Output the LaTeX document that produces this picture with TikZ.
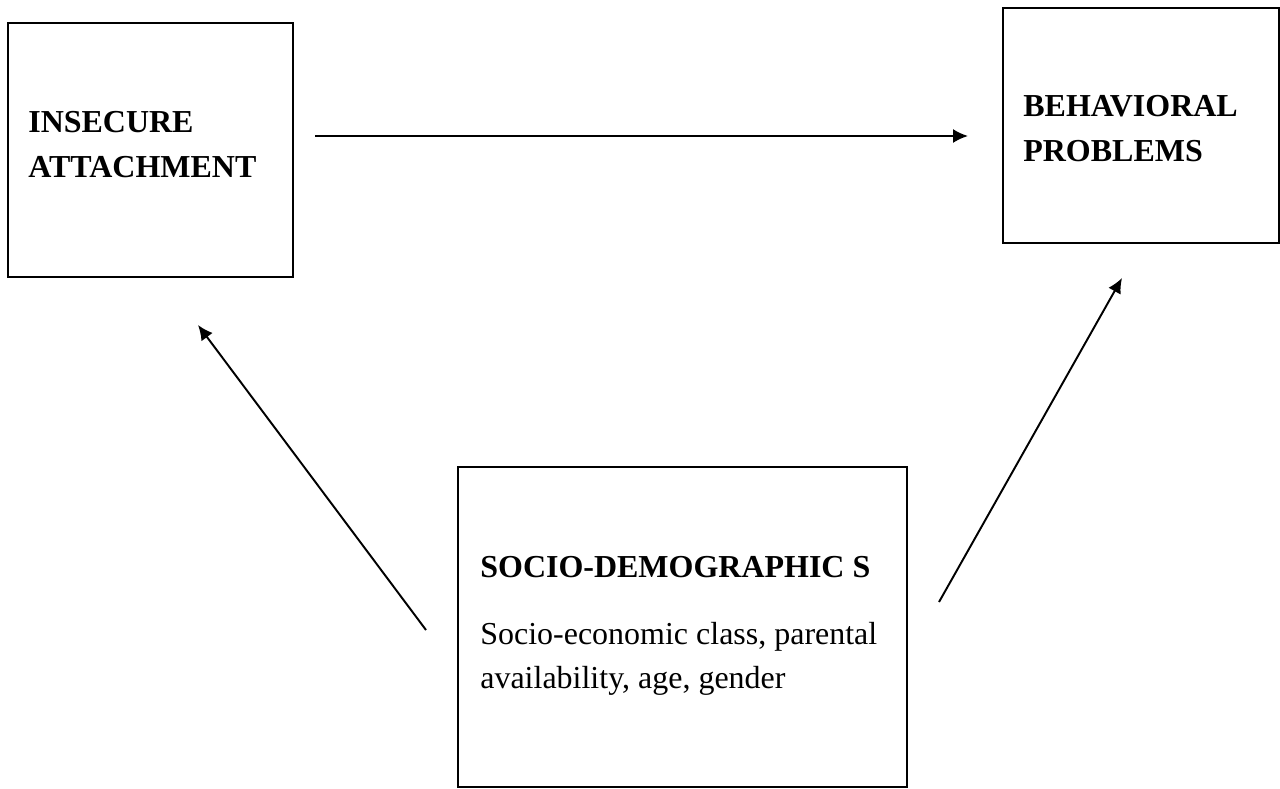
\documentclass[tikz,border=0pt]{standalone}
\usepackage{fontspec}
\setmainfont{Liberation Serif}
\usetikzlibrary{arrows.meta}
\tikzset{
  factor/.style={draw, line width=1.1pt, inner sep=0pt, outer sep=0pt, anchor=north west},
  heading/.style={anchor=base west, inner sep=0pt, align=left, font=\fontsize{18.2}{25.2}\selectfont\bfseries},
  detail/.style={anchor=base west, inner sep=0pt, align=left, font=\fontsize{18.2}{24.5}\selectfont},
  link/.style={-{Latex[length=3mm,width=2.8mm]}, line width=1.1pt}
}
\begin{document}
\begin{tikzpicture}[x=0.02cm, y=-0.02cm]
\useasboundingbox (0,0) rectangle (1280,788);
% boxes
\node[factor, minimum width=5.7cm, minimum height=5.08cm] (attach) at (8,23) {};
\node[factor, minimum width=5.52cm, minimum height=4.7cm] (behav) at (1003,8) {};
\node[factor, minimum width=8.98cm, minimum height=6.4cm] (socio) at (458,467) {};
% texts (base = last line)
\node[heading] (attach-txt) at ([shift={(20,154)}]attach.north west) {INSECURE\\ATTACHMENT};
\node[heading] (behav-txt) at ([shift={(20,153)}]behav.north west) {BEHAVIORAL\\PROBLEMS};
\node[heading] (socio-txt) at ([shift={(22,110)}]socio.north west) {SOCIO-DEMOGRAPHIC S};
\node[detail] (socio-list) at ([shift={(22,221)}]socio.north west) {Socio-economic class, parental\\availability, age, gender};
% arrow ends
\coordinate (attach-out) at (315,136);
\coordinate (behav-in) at (968,136);
\coordinate (socio-l) at (426,630);
\coordinate (attach-in) at (198,325);
\coordinate (socio-r) at (939,602);
\coordinate (behav-low) at (1122,278);
\draw[link] (attach-out) -- (behav-in);
\draw[link] (socio-l) -- (attach-in);
\draw[link] (socio-r) -- (behav-low);
\end{tikzpicture}
\end{document}
